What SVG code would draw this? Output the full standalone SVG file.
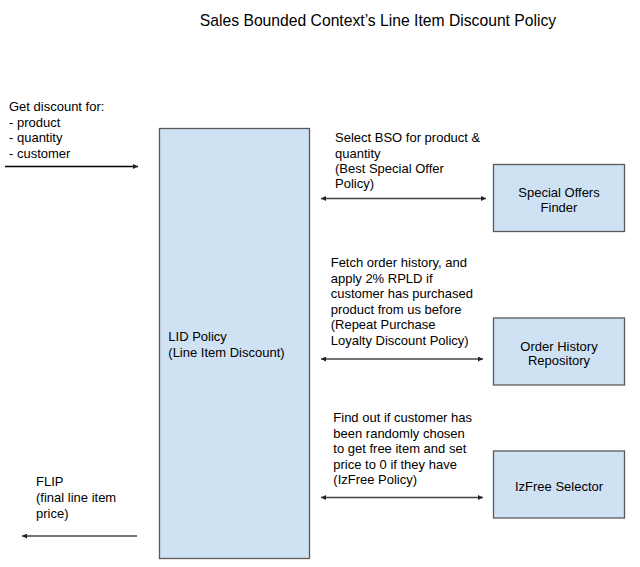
<svg xmlns="http://www.w3.org/2000/svg" width="640" height="567" viewBox="0 0 640 567">
<style>
text{font-family:"Liberation Sans",Arial,sans-serif;font-size:13px;fill:#000}
.title{font-size:15.7px;text-anchor:middle}
.c{text-anchor:middle}
.box{fill:#cfe2f3;stroke:#595959;stroke-width:1.3}
.ln{fill:none;stroke:#444;stroke-width:1.3}
</style>
<defs>
<marker id="ah" viewBox="0 0 10 10" refX="10" refY="5" markerWidth="5" markerHeight="5" markerUnits="userSpaceOnUse" orient="auto-start-reverse">
<path d="M0,0 L10,5 L0,10 z" fill="#222"/>
</marker>
</defs>
<rect width="640" height="567" fill="#fff"/>
<text class="title" x="378" y="25.5">Sales Bounded Context’s Line Item Discount Policy</text>

<g id="input-label">
<text x="9" y="110.5">Get discount for:</text>
<text x="9" y="126.5">- product</text>
<text x="9" y="142">- quantity</text>
<text x="9" y="158">- customer</text>
</g>

<g id="lid-policy">
<rect class="box" x="159.5" y="128.5" width="150" height="430"/>
<text x="168.3" y="340.5">LID Policy</text>
<text x="168.3" y="357">(Line Item Discount)</text>
</g>

<g id="special-offers-finder">
<rect class="box" x="493.5" y="164.5" width="131" height="67"/>
<text class="c" x="559" y="197">Special Offers</text>
<text class="c" x="559" y="211.5">Finder</text>
</g>

<g id="order-history-repository">
<rect class="box" x="493.5" y="318" width="131" height="67"/>
<text class="c" x="559" y="350.5">Order History</text>
<text class="c" x="559" y="365">Repository</text>
</g>

<g id="izfree-selector">
<rect class="box" x="493.5" y="451" width="131" height="67"/>
<text class="c" x="559" y="490.5">IzFree Selector</text>
</g>

<g id="bso-label">
<text x="335" y="142">Select BSO for product &amp;</text>
<text x="335" y="157.5">quantity</text>
<text x="335" y="173">(Best Special Offer</text>
<text x="335" y="188">Policy)</text>
</g>

<g id="rpld-label">
<text x="330.7" y="267">Fetch order history, and</text>
<text x="330.7" y="282.5">apply 2% RPLD if</text>
<text x="330.7" y="298">customer has purchased</text>
<text x="330.7" y="313.5">product from us before</text>
<text x="330.7" y="329">(Repeat Purchase</text>
<text x="330.7" y="344.5">Loyalty Discount Policy)</text>
</g>

<g id="izfree-label">
<text x="333.3" y="422">Find out if customer has</text>
<text x="333.3" y="437.5">been randomly chosen</text>
<text x="333.3" y="453">to get free item and set</text>
<text x="333.3" y="468.5">price to 0 if they have</text>
<text x="333.3" y="484">(IzFree Policy)</text>
</g>

<g id="flip-label">
<text x="36" y="486">FLIP</text>
<text x="36" y="501.5">(final line item</text>
<text x="36" y="517.5">price)</text>
</g>

<g id="connectors">
<line class="ln" x1="5" y1="166.5" x2="138" y2="166.5" marker-end="url(#ah)" style="stroke:#000"/>
<line class="ln" x1="321" y1="198.5" x2="486" y2="198.5" marker-start="url(#ah)" marker-end="url(#ah)"/>
<line class="ln" x1="321" y1="359" x2="483" y2="359" marker-start="url(#ah)" marker-end="url(#ah)"/>
<line class="ln" x1="321" y1="497.5" x2="483" y2="497.5" marker-start="url(#ah)" marker-end="url(#ah)"/>
<line class="ln" x1="137" y1="536" x2="22" y2="536" marker-end="url(#ah)"/>
</g>
</svg>
